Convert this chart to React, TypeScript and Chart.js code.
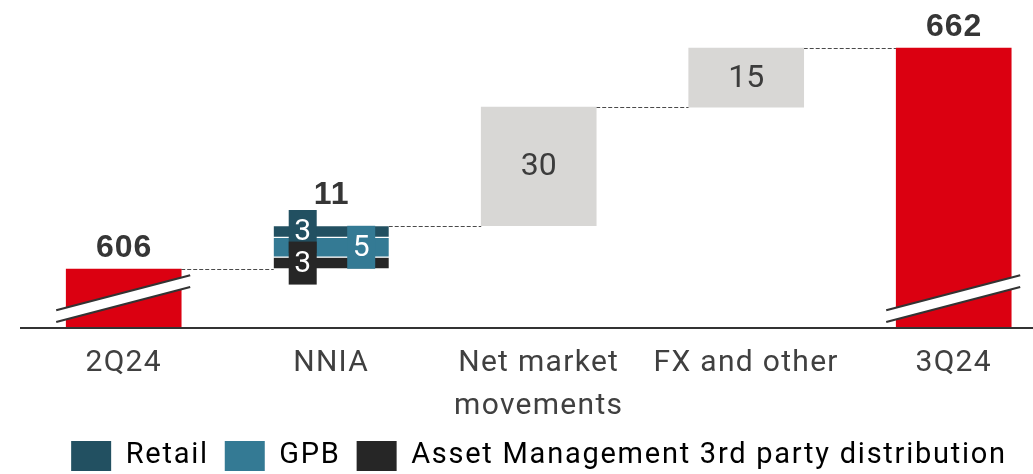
import React, { useEffect, useRef } from 'react';
import { Chart, registerables } from 'chart.js';

Chart.register(...registerables);

// ---- data ----
const CATEGORIES: (string | string[])[] = ['2Q24', 'NNIA', ['Net market', 'movements'], 'FX and other', '3Q24'];
const START_TOTAL = 606;
const END_TOTAL = 662;
const NNIA_TOTAL = 11;
// NNIA segments, listed from top of the stack to bottom
const SEGMENT_NAMES = ['Retail', 'GPB', 'Asset Management 3rd party distribution'];
const SEGMENT_VALUES = [3, 5, 3];
const STEP_VALUES = [30, 15]; // Net market movements, FX and other

// ---- scale / style ----
const Y_MIN = 591.05;
const Y_MAX = 674.16;
const X_MIN = -0.3793;
const X_MAX = 4.3821;
const BAR_THICKNESS = 115;
const RED = '#DB0011';
const GREY = '#D8D7D5';
const SEGMENT_COLORS = ['#225061', '#347A94', '#262626'];
const TEXT = '#404040';
const LABEL_DARK = '#363636';
const LEGEND_SPACING = '1.75px';
const AXIS_SPACING = '1.3px';

// derived levels
const NNIA_SUM = SEGMENT_VALUES.reduce((a, b) => a + b, 0);
const LEVEL_AFTER_NNIA = START_TOTAL + NNIA_SUM;
const LEVEL_AFTER_MARKET = LEVEL_AFTER_NNIA + STEP_VALUES[0];
const LEVELS = [START_TOTAL, LEVEL_AFTER_NNIA, LEVEL_AFTER_MARKET, LEVEL_AFTER_MARKET + STEP_VALUES[1]];

// segment ranges (bottom to top: last segment is at the bottom)
function segmentRanges(): [number, number][] {
  const ranges: [number, number][] = [];
  let base = START_TOTAL;
  for (let i = SEGMENT_VALUES.length - 1; i >= 0; i--) {
    ranges[i] = [base, base + SEGMENT_VALUES[i]];
    base += SEGMENT_VALUES[i];
  }
  return ranges;
}
const SEG_RANGES = segmentRanges();
const BOX_OFFSETS = [-28.5, 30, -28.5]; // label box x offsets relative to bar centre

const decorPlugin = {
  id: 'waterfallDecor',
  beforeLayout(chart: any) {
    chart.ctx.letterSpacing = LEGEND_SPACING;
  },
  beforeDraw(chart: any) {
    chart.ctx.letterSpacing = LEGEND_SPACING;
  },
  beforeDatasetsDraw(chart: any) {
    const { ctx, scales } = chart;
    const x = scales.x;
    const y = scales.y;
    const half = BAR_THICKNESS / 2;
    ctx.save();
    ctx.strokeStyle = '#4a4a4a';
    ctx.lineWidth = 1;
    ctx.setLineDash([4, 2]);
    LEVELS.forEach((lvl, i) => {
      const py = Math.round(y.getPixelForValue(lvl)) + 0.5;
      ctx.beginPath();
      ctx.moveTo(x.getPixelForValue(i) + half, py);
      ctx.lineTo(x.getPixelForValue(i + 1) - half, py);
      ctx.stroke();
    });
    ctx.restore();
  },
  afterDatasetsDraw(chart: any) {
    const { ctx, chartArea, scales } = chart;
    const x = scales.x;
    const y = scales.y;
    const half = BAR_THICKNESS / 2;
    const y0 = Math.round(chartArea.bottom);

    ctx.save();
    // axis line
    ctx.strokeStyle = '#333333';
    ctx.lineWidth = 2;
    ctx.beginPath();
    ctx.moveTo(chartArea.left - 25, y0);
    ctx.lineTo(chart.width, y0);
    ctx.stroke();

    // break marks on total bars
    [0, CATEGORIES.length - 1].forEach((idx) => {
      const bx = x.getPixelForValue(idx);
      const lx = bx - half - 10;
      const rx = bx + half + 9;
      ctx.fillStyle = '#ffffff';
      ctx.beginPath();
      ctx.moveTo(lx, y0 - 17.7);
      ctx.lineTo(rx, y0 - 52.7);
      ctx.lineTo(rx, y0 - 41);
      ctx.lineTo(lx, y0 - 6);
      ctx.closePath();
      ctx.fill();
      ctx.strokeStyle = '#333333';
      ctx.lineWidth = 2.2;
      ctx.beginPath();
      ctx.moveTo(lx, y0 - 17.7);
      ctx.lineTo(rx, y0 - 52.7);
      ctx.moveTo(lx, y0 - 6);
      ctx.lineTo(rx, y0 - 41);
      ctx.stroke();
    });

    // NNIA segment label boxes
    const nx = x.getPixelForValue(1);
    let retailBoxTop = 0;
    ctx.letterSpacing = '0px';
    SEGMENT_VALUES.forEach((v, i) => {
      const [a, b] = SEG_RANGES[i];
      const cy = y.getPixelForValue((a + b) / 2);
      const cx = nx + BOX_OFFSETS[i];
      ctx.fillStyle = SEGMENT_COLORS[i];
      ctx.fillRect(cx - 14, cy - 21.5, 28, 43);
      if (i === 0) retailBoxTop = cy - 21.5;
      ctx.fillStyle = '#ffffff';
      ctx.font = '30px Roboto';
      ctx.textAlign = 'center';
      ctx.textBaseline = 'middle';
      ctx.fillText(String(v), cx, cy + 1);
    });

    // total labels
    ctx.letterSpacing = '1px';
    ctx.fillStyle = LABEL_DARK;
    ctx.font = 'bold 32px "Liberation Sans"';
    ctx.textAlign = 'center';
    ctx.textBaseline = 'alphabetic';
    ctx.fillText(String(START_TOTAL), x.getPixelForValue(0) + 0.5, y.getPixelForValue(START_TOTAL) - 12);
    ctx.fillText(String(END_TOTAL), x.getPixelForValue(4) + 0.5, y.getPixelForValue(END_TOTAL) - 12);
    ctx.fillText(String(NNIA_TOTAL), nx + 0.5, retailBoxTop - 6.5);

    // step labels
    ctx.letterSpacing = '0px';
    ctx.fillStyle = '#3c3c3c';
    ctx.font = '32px Roboto';
    ctx.textBaseline = 'middle';
    STEP_VALUES.forEach((v, i) => {
      const lo = LEVELS[i + 1];
      const hi = lo + v;
      ctx.fillText(String(v), x.getPixelForValue(i + 2), (y.getPixelForValue(lo) + y.getPixelForValue(hi)) / 2 + 1);
    });
    ctx.restore();
    // axis tick labels are drawn after this hook
    ctx.letterSpacing = AXIS_SPACING;
  },
};

export default function App() {
  const canvasRef = useRef<HTMLCanvasElement | null>(null);

  useEffect(() => {
    document.body.style.margin = '0';
    const canvas = canvasRef.current;
    if (!canvas) return;

    const datasets: any[] = [
      {
        label: 'Total',
        data: [
          { x: 0, y: START_TOTAL },
          { x: 4, y: END_TOTAL },
        ],
        backgroundColor: RED,
        borderWidth: 0,
      },
      ...SEGMENT_NAMES.map((name, i) => ({
        label: name,
        data: [{ x: 1, y: SEG_RANGES[i] }],
        backgroundColor: SEGMENT_COLORS[i],
        borderColor: '#ffffff',
        borderWidth: { top: 1, bottom: 1, left: 0, right: 0 },
        borderSkipped: false,
      })),
      {
        label: 'Steps',
        data: STEP_VALUES.map((v, i) => ({ x: i + 2, y: [LEVELS[i + 1], LEVELS[i + 1] + v] })),
        backgroundColor: GREY,
        borderWidth: 0,
      },
    ];

    const chart = new Chart(canvas, {
      type: 'bar',
      data: { datasets },
      options: {
        animation: false,
        responsive: true,
        maintainAspectRatio: false,
        devicePixelRatio: 1,
        events: [],
        layout: { padding: { left: 45, right: 0, top: 0, bottom: 0 } },
        datasets: {
          bar: { grouped: false, barThickness: BAR_THICKNESS },
        },
        scales: {
          x: {
            type: 'linear',
            min: X_MIN,
            max: X_MAX,
            bounds: 'data',
            offset: false,
            grid: { display: false },
            border: { display: false },
            afterBuildTicks: (scale: any) => {
              scale.ticks = CATEGORIES.map((_, i) => ({ value: i }));
            },
            afterFit: (scale: any) => {
              scale.height = 97;
            },
            ticks: {
              z: 1,
              autoSkip: false,
              maxRotation: 0,
              minRotation: 0,
              padding: 6,
              color: TEXT,
              font: { family: 'Roboto', size: 30, lineHeight: 1.43 },
              callback: (value: any) => CATEGORIES[Math.round(value)] as any,
            },
          },
          y: {
            display: false,
            min: Y_MIN,
            max: Y_MAX,
            bounds: 'data',
          },
        },
        plugins: {
          tooltip: { enabled: false },
          legend: {
            display: true,
            position: 'bottom',
            maxHeight: 49,
            labels: {
              boxWidth: 40,
              boxHeight: 30,
              padding: 16,
              color: TEXT,
              font: { family: 'Roboto', size: 29 },
              generateLabels: () =>
                SEGMENT_NAMES.map((name, i) => ({
                  text: name,
                  fillStyle: SEGMENT_COLORS[i],
                  strokeStyle: SEGMENT_COLORS[i],
                  lineWidth: 0,
                  hidden: false,
                  datasetIndex: i + 1,
                })),
            },
          },
        },
      } as any,
      plugins: [decorPlugin],
    });

    return () => {
      chart.destroy();
    };
  }, []);

  return (
    <div style={{ position: 'relative', width: '1033px', height: '474px' }}>
      <canvas ref={canvasRef} />
    </div>
  );
}
